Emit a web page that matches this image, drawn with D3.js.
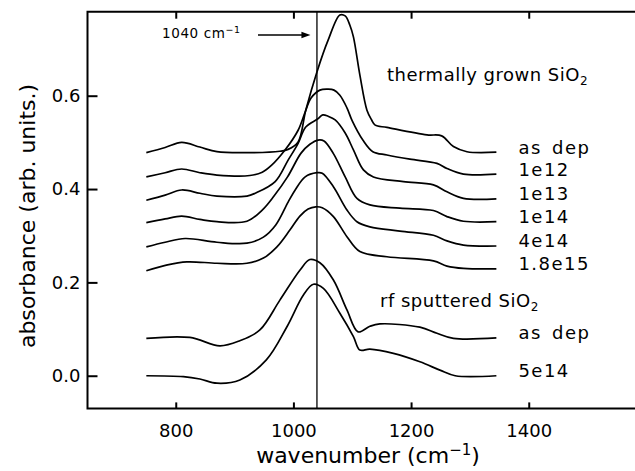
<!DOCTYPE html>
<html>
<head>
<meta charset="utf-8">
<script src="https://cdn.jsdelivr.net/npm/d3@7"></script>
<style>
body { margin: 0; background: #fff; overflow: hidden; }
svg { display: block; }
svg text { font-family: "DejaVu Sans", sans-serif; fill: #000; }
</style>
</head>
<body>
<div id="chart"></div>
<script>
// IR absorbance spectra (wavenumber in cm-1, absorbance in arb. units)
var thAsDepWn = [750, 782, 810, 841, 870, 926, 977, 991, 1008, 1021, 1040, 1059, 1079, 1088, 1096, 1102, 1113, 1125, 1133, 1139, 1159, 1227, 1252, 1272, 1295, 1345];
var thAsDepAbs = [0.478, 0.489, 0.500, 0.490, 0.480, 0.478, 0.481, 0.485, 0.501, 0.569, 0.651, 0.719, 0.773, 0.771, 0.751, 0.726, 0.644, 0.569, 0.548, 0.537, 0.532, 0.516, 0.514, 0.491, 0.480, 0.479];

var th1e12Wn = [750, 782, 810, 841, 870, 926, 947, 963, 986, 1008, 1020, 1030, 1045, 1059, 1069, 1079, 1091, 1100, 1118, 1135, 1159, 1198, 1244, 1261, 1289, 1345];
var th1e12Abs = [0.426, 0.435, 0.443, 0.435, 0.430, 0.429, 0.436, 0.451, 0.484, 0.526, 0.565, 0.595, 0.612, 0.614, 0.612, 0.601, 0.574, 0.546, 0.505, 0.480, 0.473, 0.464, 0.455, 0.444, 0.432, 0.432];

var th1e13Wn = [750, 782, 810, 841, 870, 921, 935, 969, 991, 1008, 1021, 1041, 1050, 1059, 1071, 1088, 1102, 1119, 1136, 1187, 1238, 1261, 1289, 1345];
var th1e13Abs = [0.376, 0.387, 0.398, 0.391, 0.385, 0.385, 0.391, 0.416, 0.462, 0.498, 0.533, 0.550, 0.559, 0.556, 0.548, 0.520, 0.484, 0.441, 0.426, 0.416, 0.409, 0.394, 0.380, 0.379];

var th1e14Wn = [750, 782, 810, 841, 870, 921, 947, 967, 990, 1013, 1028, 1042, 1052, 1068, 1088, 1108, 1130, 1181, 1238, 1261, 1289, 1345];
var th1e14Abs = [0.328, 0.336, 0.342, 0.335, 0.330, 0.331, 0.355, 0.385, 0.426, 0.477, 0.496, 0.505, 0.503, 0.476, 0.426, 0.380, 0.366, 0.359, 0.354, 0.341, 0.331, 0.330];

var th4e14Wn = [750, 782, 816, 870, 921, 949, 970, 991, 1003, 1020, 1040, 1049, 1068, 1091, 1108, 1130, 1181, 1238, 1261, 1289, 1345];
var th4e14Abs = [0.276, 0.286, 0.294, 0.286, 0.284, 0.297, 0.323, 0.372, 0.398, 0.426, 0.435, 0.434, 0.405, 0.355, 0.330, 0.319, 0.310, 0.301, 0.289, 0.280, 0.278];

var th18e15Wn = [750, 784, 819, 870, 921, 949, 972, 994, 1011, 1025, 1038, 1049, 1068, 1091, 1113, 1159, 1238, 1261, 1289, 1345];
var th18e15Abs = [0.225, 0.237, 0.244, 0.241, 0.241, 0.252, 0.276, 0.312, 0.342, 0.357, 0.362, 0.360, 0.341, 0.298, 0.266, 0.255, 0.246, 0.235, 0.230, 0.229];

var rfAsDepWn = [750, 824, 875, 909, 943, 977, 1011, 1028, 1045, 1068, 1091, 1110, 1130, 1147, 1215, 1244, 1272, 1345];
var rfAsDepAbs = [0.080, 0.082, 0.064, 0.075, 0.098, 0.162, 0.226, 0.249, 0.242, 0.205, 0.141, 0.094, 0.106, 0.111, 0.104, 0.091, 0.080, 0.081];

var rf5e14Wn = [750, 813, 841, 870, 909, 954, 989, 1017, 1034, 1051, 1079, 1102, 1113, 1130, 1170, 1215, 1249, 1275, 1345];
var rf5e14Abs = [0.000, -0.002, -0.007, -0.016, -0.009, 0.034, 0.105, 0.173, 0.196, 0.187, 0.134, 0.084, 0.055, 0.057, 0.048, 0.030, 0.012, 0.000, 0.000];

var sampleLabels = ["as dep", "1e12", "1e13", "1e14", "4e14", "1.8e15", "as dep", "5e14"];
var xTicks = [800, 1000, 1200, 1400];
var yTicks = [0.0, 0.2, 0.4, 0.6];
var markerWn = 1040;

var w = 635;
var h = 471;

var x = d3.scaleLinear().domain([650, 1600]).range([87.5, 646.4]);
var y = d3.scaleLinear().domain([-0.07, 0.78]).range([408.4, 11.7]);

var series = [
    [thAsDepWn, thAsDepAbs], [th1e12Wn, th1e12Abs], [th1e13Wn, th1e13Abs],
    [th1e14Wn, th1e14Abs], [th4e14Wn, th4e14Abs], [th18e15Wn, th18e15Abs],
    [rfAsDepWn, rfAsDepAbs], [rf5e14Wn, rf5e14Abs]
].map(function (s, i) {
    return { label: sampleLabels[i], pts: s[0].map(function (v, j) { return [v, s[1][j]]; }) };
});

var svg = d3.select("#chart")
    .append("svg")
    .attr("width", w)
    .attr("height", h);

// axes, ticks pointing inward
var xAxis = svg.append("g")
    .attr("transform", "translate(0," + y.range()[0] + ")")
    .call(d3.axisBottom(x).tickValues(xTicks).tickSize(-6).tickSizeOuter(0).tickFormat(d3.format("d")));
xAxis.select(".domain").remove();
xAxis.selectAll("line").attr("stroke-width", 2);
xAxis.selectAll("text")
    .attr("y", 29)
    .attr("dy", 0)
    .style("font-family", "DejaVu Sans")
    .style("font-size", "18px");

var topAxis = svg.append("g")
    .attr("transform", "translate(0," + y.range()[1] + ")")
    .call(d3.axisTop(x).tickValues(xTicks).tickSize(-7).tickSizeOuter(0).tickFormat(""));
topAxis.select(".domain").remove();
topAxis.selectAll("line").attr("stroke-width", 2);

var yAxis = svg.append("g")
    .attr("transform", "translate(" + x.range()[0] + ",0)")
    .call(d3.axisLeft(y).tickValues(yTicks).tickSize(-10).tickSizeOuter(0).tickPadding(7).tickFormat(d3.format(".1f")));
yAxis.select(".domain").remove();
yAxis.selectAll("line").attr("stroke-width", 2);
yAxis.selectAll("text")
    .style("font-family", "DejaVu Sans")
    .style("font-size", "18px");

// frame: top, left and bottom (the right side falls outside the picture)
var x0 = x.range()[0], x1 = x.range()[1], yTop = y.range()[1], yBot = y.range()[0];
svg.append("path")
    .attr("d", "M" + x1 + "," + yTop + "H" + x0 + "V" + yBot + "H" + x1)
    .attr("fill", "none")
    .attr("stroke", "#000")
    .attr("stroke-width", 2);

// 1040 marker line
svg.append("line")
    .attr("x1", x(markerWn)).attr("x2", x(markerWn))
    .attr("y1", yTop).attr("y2", yBot)
    .attr("stroke", "#000")
    .attr("stroke-width", 1.3);

var line = d3.line()
    .x(function (d) { return x(d[0]); })
    .y(function (d) { return y(d[1]); })
    .curve(d3.curveCatmullRom.alpha(0.5));

svg.selectAll("path.spec")
    .data(series)
    .enter()
    .append("path")
    .attr("class", "spec")
    .attr("d", function (d) { return line(d.pts); })
    .attr("fill", "none")
    .attr("stroke", "#000")
    .attr("stroke-width", 1.7);

svg.selectAll("text.lab")
    .data(series)
    .enter()
    .append("text")
    .attr("class", "lab")
    .attr("x", function (d) { return x(d.pts[d.pts.length - 1][0]) + 22; })
    .attr("y", function (d) { return y(d.pts[d.pts.length - 1][1]) + 1.5; })
    .style("font-size", "18px")
    .style("letter-spacing", "1.5px")
    .style("word-spacing", "3px")
    .text(function (d) { return d.label; });

// group titles with subscript
function title(tx, ty, str) {
    var t = svg.append("text")
        .attr("x", tx)
        .attr("y", ty)
        .style("font-size", "18px")
        .style("letter-spacing", "0.5px");
    t.append("tspan").text(str);
    t.append("tspan").attr("dy", 4).style("font-size", "12px").text("2");
}
title(387, 80.7, "thermally grown SiO");
title(380, 307.3, "rf sputtered SiO");

// marker annotation
var ann = svg.append("text")
    .attr("x", 162)
    .attr("y", 38.3)
    .style("font-size", "13.5px")
    .style("letter-spacing", "0.6px");
ann.append("tspan").text("1040 cm");
ann.append("tspan").attr("dy", -5).style("font-size", "9.5px").text("\u22121");

var tipX = x(markerWn) - 6.5;
svg.append("line")
    .attr("x1", 258).attr("x2", tipX - 7)
    .attr("y1", 35).attr("y2", 35)
    .attr("stroke", "#000")
    .attr("stroke-width", 1.5);
svg.append("path")
    .attr("d", "M" + tipX + ",35L" + (tipX - 9) + ",31.8L" + (tipX - 9) + ",38.2Z")
    .attr("fill", "#000");

// axis titles
var xt = svg.append("text")
    .attr("x", 368)
    .attr("y", 463)
    .attr("text-anchor", "middle")
    .style("font-size", "22px");
xt.append("tspan").text("wavenumber (cm");
xt.append("tspan").attr("dy", -8).style("font-size", "15px").text("\u22121");
xt.append("tspan").attr("dy", 8).text(")");

svg.append("text")
    .attr("transform", "translate(35,216) rotate(-90)")
    .attr("text-anchor", "middle")
    .style("font-size", "22px")
    .text("absorbance (arb. units.)");
</script>
</body>
</html>
